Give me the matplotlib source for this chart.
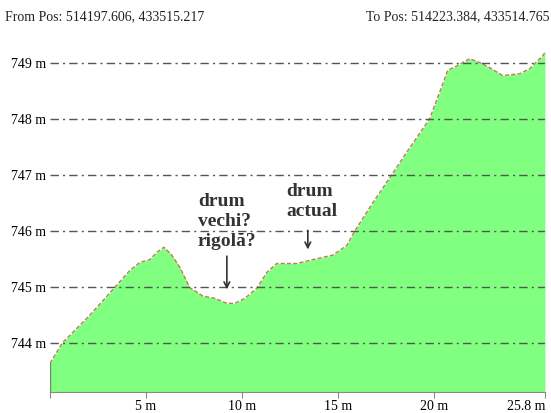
import matplotlib.pyplot as plt
import numpy as np

# elevation profile
distance = [0.0, 0.63, 2.08, 3.39, 4.17, 4.69, 5.21, 5.57, 5.94, 6.35, 6.77, 7.29,
            7.97, 8.59, 9.22, 9.64, 10.16, 10.78, 11.30, 11.82, 12.86, 13.70, 14.74,
            15.47, 15.89, 16.67, 17.81, 18.65, 19.79, 20.31, 20.73, 21.25, 21.88,
            22.40, 22.92, 23.59, 24.48, 25.0, 25.68, 25.8]
elevation = [743.64, 744.0, 744.5, 745.0, 745.3, 745.44, 745.49, 745.62, 745.71, 745.57,
             745.35, 744.99, 744.84, 744.8, 744.71, 744.71, 744.8, 744.98, 745.26, 745.42,
             745.42, 745.49, 745.57, 745.74, 746.0, 746.42, 747.0, 747.43, 748.0, 748.47,
             748.86, 748.95, 749.07, 749.0, 748.91, 748.77, 748.8, 748.89, 749.12, 749.18]

yticks = [744, 745, 746, 747, 748, 749]
xticks = [0, 5, 10, 15, 20, 25.8]
xticklabels = ['', '5 m', '10 m', '15 m', '20 m', '25.8 m']

serif = 'Liberation Serif'

fig = plt.figure(figsize=(5.51, 4.13), dpi=100)
ax = fig.add_axes([0.0907, 0.0508, 0.8983, 0.852])

ax.fill_between(distance, elevation, 743.13, color='#80ff80', lw=0)
ax.plot(distance, elevation, color='#b4825a', lw=1.0, ls=(0, (3, 1.5)))
ax.plot([0, 0], [743.13, elevation[0]], color='#6a8a6a', lw=1.0)

for y in yticks:
    ax.axhline(y, color='#555555', lw=1.0, ls=(0, (6, 3, 1.5, 3)), zorder=3)

ax.set_xlim(0, 25.8)
ax.set_ylim(743.13, 749.4)
ax.set_yticks(yticks)
ax.set_yticklabels(['%d m' % y for y in yticks], fontfamily=serif, fontsize=10)
ax.set_xticks(xticks)
ax.set_xticklabels(xticklabels, fontfamily=serif, fontsize=10)
ax.get_xticklabels()[-1].set_horizontalalignment('right')
ax.get_xticklabels()[-1].set_x(25.8)
ax.tick_params(axis='y', length=0, pad=3)
ax.tick_params(axis='x', length=4, color='#888888', pad=2)
for s in ['top', 'right', 'left']:
    ax.spines[s].set_visible(False)
ax.spines['bottom'].set_color('#888888')

arrow = dict(arrowstyle='->', color='#333333', lw=1.2)
ax.annotate('', xy=(9.22, 744.91), xytext=(9.22, 745.6), arrowprops=arrow, zorder=4)
ax.annotate('', xy=(13.44, 745.62), xytext=(13.44, 746.06), arrowprops=arrow, zorder=4)
ax.text(7.71, 746.17, 'drum\nvechi?\nrigolă?', ha='left', va='center', fontfamily=serif,
        fontweight='bold', fontsize=14, color='#333333', linespacing=1.2)
ax.text(12.34, 746.53, 'drum\nactual', ha='left', va='center', fontfamily=serif,
        fontweight='bold', fontsize=14, color='#333333', linespacing=1.2)

fig.text(5 / 551, 1 - 17 / 413, 'From Pos: 514197.606, 433515.217', ha='left', va='center',
         fontfamily=serif, fontsize=10, color='#222222')
fig.text(550 / 551, 1 - 17 / 413, 'To Pos: 514223.384, 433514.765', ha='right', va='center',
         fontfamily=serif, fontsize=10, color='#222222')

fig.savefig('out.png', dpi=100)
